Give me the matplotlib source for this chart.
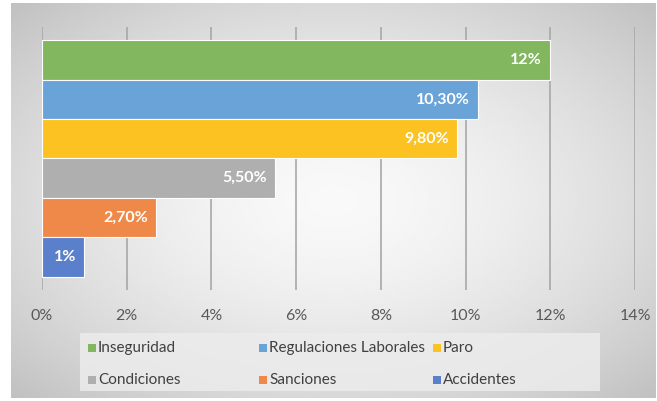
import numpy as np
import matplotlib.pyplot as plt
from matplotlib.patches import Rectangle

categorias = ["Inseguridad", "Regulaciones Laborales", "Paro", "Condiciones", "Sanciones", "Accidentes"]
valores = [12, 10.3, 9.8, 5.5, 2.7, 1]
etiquetas = ["12%", "10,30%", "9,80%", "5,50%", "2,70%", "1%"]
colores = ["#82b75f", "#6aa3d8", "#fcc221", "#afafaf", "#ef894a", "#5a80cc"]
ticks = [0, 2, 4, 6, 8, 10, 12, 14]

plt.rcParams['font.family'] = ['Lato', 'DejaVu Sans']

W, H = 657, 401
fig = plt.figure(figsize=(W / 100, H / 100), dpi=100)

# fondo con degradado radial
bg = fig.add_axes([11/W, 3/H, 645/W, 395/H])
yy, xx = np.mgrid[-1:1:200j, -1:1:300j]
r = np.sqrt(xx**2 + yy**2) / np.sqrt(2)
bg.imshow(0.975 - 0.22 * r**1.6, cmap="gray", vmin=0, vmax=1, aspect="auto", extent=[0, 1, 0, 1])
bg.axis("off")

ax = fig.add_axes([42/W, (H-290)/H, (635-42)/W, (290-27)/H])
ax.patch.set_alpha(0)
pos = np.arange(len(valores))
ax.barh(pos, valores, height=1.0, color=colores, edgecolor="white", linewidth=0.8, zorder=3)
for p, v, t in zip(pos, valores, etiquetas):
    ax.text(v - 0.2, p, t, ha="right", va="center", color="white",
            fontsize=11.5, fontweight="bold", zorder=4)

ax.set_ylim(len(valores) - 0.5 + 0.34, -0.5 - 0.34)
ax.set_xlim(0, 14)
ax.set_xticks(ticks)
ax.set_xticklabels([f"{t}%" for t in ticks], color="#595959", fontsize=11.5)
ax.set_yticks([])
ax.tick_params(axis="x", length=0, pad=14)
ax.grid(axis="x", color="#a8a8a8", linewidth=1.2, zorder=0)
for s in ax.spines.values():
    s.set_visible(False)

# leyenda dibujada a mano: columnas de ancho fijo como en Excel
fig.patches.append(Rectangle((80/W, (H-391)/H), 520/W, 58/H, transform=fig.transFigure,
                             facecolor="#ececec", edgecolor="none", alpha=0.85))
col_x = [88, 259, 433]
fila_y = [348, 380]
for i, (nombre, c) in enumerate(zip(categorias, colores)):
    x = col_x[i % 3]
    y = fila_y[i // 3]
    fig.patches.append(Rectangle((x/W, (H-y-4)/H), 8/W, 8/H, transform=fig.transFigure,
                                 facecolor=c, edgecolor="none"))
    fig.text((x + 10)/W, (H-y)/H, nombre, ha="left", va="center", fontsize=11, color="#404040")

fig.savefig("out.png", dpi=100)
